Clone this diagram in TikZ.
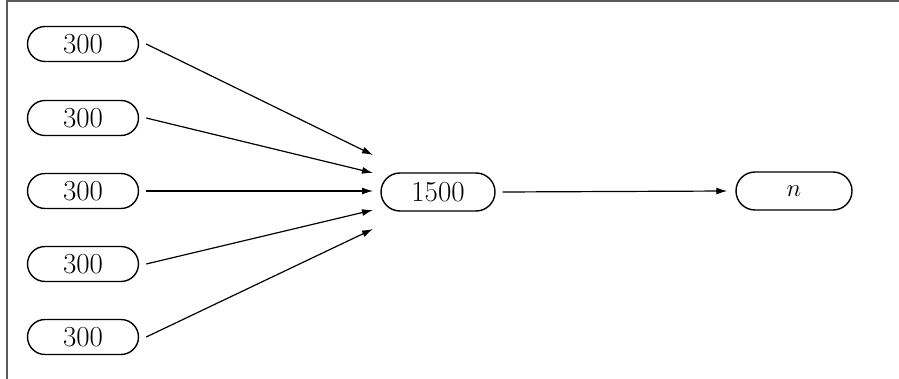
\documentclass[tikz,border=0pt]{standalone}
\usepackage{fontspec}
\usetikzlibrary{shapes.misc,arrows.meta}
\begin{document}
\begin{tikzpicture}[x=1pt,y=-1pt,
  val/.style={draw,rounded rectangle,line width=1.4pt,minimum width=111pt,minimum height=35pt,inner sep=0pt,font=\fontsize{29}{31}\selectfont},
  link/.style={line width=1.2pt,-{Latex[length=11pt,width=7pt]}}]
\useasboundingbox (0,0) rectangle (899,379);
\draw[line width=2pt,gray!70!black] (7,379) -- (7,1.5) -- (899,1.5);
\node[val] (a1) at (83,44) {300};
\node[val] (a2) at (83,118) {300};
\node[val] (a3) at (83,191) {300};
\node[val] (a4) at (83,264) {300};
\node[val] (a5) at (83,337) {300};
\node[val,minimum width=114pt,minimum height=38pt] (b) at (438,192) {1500};
\node[val,minimum width=116pt,minimum height=38pt] (c) at (794,191) {$n$};
\coordinate (e1) at (373,155);
\coordinate (e2) at (373,173);
\coordinate (e3) at (373,191);
\coordinate (e4) at (373,210);
\coordinate (e5) at (373,229);
\draw[link] ([xshift=7pt]a1.east) -- (e1);
\draw[link] ([xshift=7pt]a2.east) -- (e2);
\draw[link] ([xshift=7pt]a3.east) -- (e3);
\draw[link] ([xshift=7pt]a4.east) -- (e4);
\draw[link] ([xshift=7pt]a5.east) -- (e5);
\draw[link] ([xshift=7pt]b.east) -- ([xshift=-8pt]c.west);
\end{tikzpicture}
\end{document}
